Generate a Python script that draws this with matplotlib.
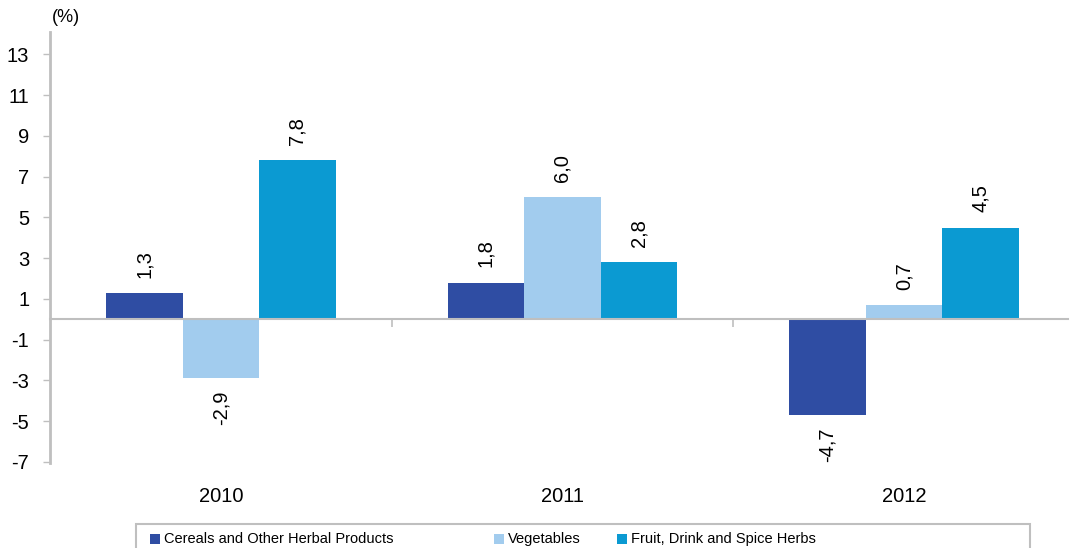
import matplotlib
matplotlib.use("Agg")
import matplotlib.pyplot as plt
import numpy as np
from matplotlib.patches import Rectangle
from matplotlib.transforms import blended_transform_factory

plt.rcParams['font.family'] = ['Liberation Sans', 'DejaVu Sans']

years = ["2010", "2011", "2012"]
series_names = ["Cereals and Other Herbal Products", "Vegetables", "Fruit, Drink and Spice Herbs"]
cereals = [1.3, 1.8, -4.7]
vegetables = [-2.9, 6.0, 0.7]
fruit = [7.8, 2.8, 4.5]
colors = ["#2F4DA3", "#A2CCEE", "#0B9AD2"]
yticks = [13, 11, 9, 7, 5, 3, 1, -1, -3, -5, -7]

FS = 14.5
fig = plt.figure(figsize=(10.7, 5.48), dpi=100)
ax = fig.add_axes([50/1070, 1-463/548, (1068-50)/1070, (463-32)/548])

x = np.arange(len(years))
w = 0.224
for i, (vals, c) in enumerate(zip([cereals, vegetables, fruit], colors)):
    pos = x + (i - 1) * w
    ax.bar(pos, vals, width=w, color=c, edgecolor='none', zorder=2)
    for px, v in zip(pos, vals):
        lab = f"{v:.1f}".replace('.', ',')
        if v >= 0:
            ax.annotate(lab, (px, v), xytext=(0, 11), textcoords='offset points',
                        rotation=90, ha='center', va='bottom', fontsize=FS)
        else:
            ax.annotate(lab, (px, v), xytext=(0, -9), textcoords='offset points',
                        rotation=90, ha='center', va='top', fontsize=FS)

ax.set_xlim(-0.5, 2.48)
ax.set_ylim(-7.05, 14.1)
ax.set_yticks(yticks)
ax.set_yticklabels([str(t) for t in yticks], fontsize=FS)
ax.tick_params(axis='y', direction='out', length=5, width=1, color='#BFBFBF', pad=10)

for s in ['top', 'right']:
    ax.spines[s].set_visible(False)
ax.spines['left'].set_color('#BFBFBF')
ax.spines['left'].set_linewidth(2)
ax.spines['bottom'].set_position(('data', 0))
ax.spines['bottom'].set_color('#BFBFBF')
ax.spines['bottom'].set_linewidth(1.5)
ax.set_xticks([0.5, 1.5])
ax.set_xticklabels([])
ax.tick_params(axis='x', direction='out', length=6, width=1.2, color='#BFBFBF')

trans = blended_transform_factory(ax.transData, ax.transAxes)
for xi, yr in zip(x, years):
    ax.text(xi, -34/431, yr, transform=trans, ha='center', va='center', fontsize=FS)

fig.text(52/1070, 1-18/548, "(%)", ha='left', va='center', fontsize=13)

# legend box
fig.patches.append(Rectangle((136/1070, -0.05), (1030-136)/1070, (0.05 + 1 - 524/548),
                             transform=fig.transFigure, facecolor='white',
                             edgecolor='#BFBFBF', linewidth=1.5))
leg_x = [150, 494, 617]
yc = 1 - 539/548
for lx, name, c in zip(leg_x, series_names, colors):
    fig.patches.append(Rectangle((lx/1070, yc - 5/548), 10/1070, 10/548,
                                 transform=fig.transFigure, facecolor=c, edgecolor='none'))
    fig.text((lx + 14)/1070, yc, name, ha='left', va='center', fontsize=10.5)

fig.savefig("out.png", dpi=100)
